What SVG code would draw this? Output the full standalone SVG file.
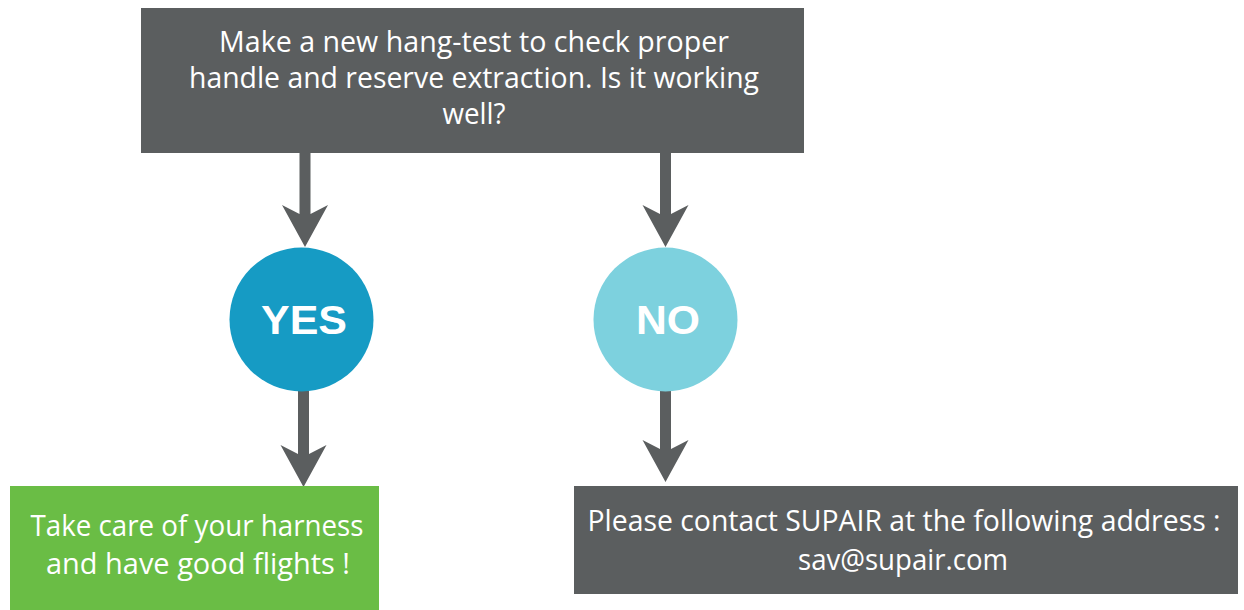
<svg xmlns="http://www.w3.org/2000/svg" width="1244" height="610" viewBox="0 0 1244 610">
<style>
.box{fill:#5b5e5f}
.t{font-family:"Open Sans","Liberation Sans",sans-serif;font-size:29px;fill:#ffffff;text-anchor:middle}
.c{font-family:"Liberation Sans",Arial,sans-serif;font-weight:bold;font-size:41px;fill:#ffffff;text-anchor:middle}
.arr{fill:#5b5e5f}
</style>
<rect width="1244" height="610" fill="#ffffff"/>
<g id="connectors">
  <path class="arr" d="M299.5,152 h11 v62 l17.5,-9 l-23,42 l-23,-42 l17.5,9 z"/>
  <path class="arr" d="M298,391 h11 v63 l17.5,-9 l-23,42 l-23,-42 l17.5,9 z"/>
  <path class="arr" d="M660,152 h11 v62 l17.5,-9 l-23,42 l-23,-42 l17.5,9 z"/>
  <path class="arr" d="M660,391 h11 v58 l17.5,-9 l-23,42 l-23,-42 l17.5,9 z"/>
</g>
<g id="question">
  <rect class="box" x="141" y="8" width="663" height="145"/>
  <text class="t" x="474" y="52" textLength="510" lengthAdjust="spacingAndGlyphs">Make a new hang-test to check proper</text>
  <text class="t" x="474" y="88" textLength="570" lengthAdjust="spacingAndGlyphs">handle and reserve extraction. Is it working</text>
  <text class="t" x="474" y="124" textLength="63" lengthAdjust="spacingAndGlyphs">well?</text>
</g>
<g id="yes">
  <circle cx="301.5" cy="319.5" r="72" fill="#169bc4"/>
  <text class="c" x="304" y="334" textLength="86" lengthAdjust="spacingAndGlyphs">YES</text>
</g>
<g id="no">
  <circle cx="665.5" cy="319.5" r="72" fill="#7dd1de"/>
  <text class="c" x="668" y="334" textLength="64" lengthAdjust="spacingAndGlyphs">NO</text>
</g>
<g id="yes-result">
  <rect x="10" y="486" width="369" height="124" fill="#6abd45"/>
  <text class="t" x="197" y="536" textLength="333" lengthAdjust="spacingAndGlyphs">Take care of your harness</text>
  <text class="t" x="198" y="574" textLength="304" lengthAdjust="spacingAndGlyphs">and have good flights !</text>
</g>
<g id="no-result">
  <rect class="box" x="574" y="486" width="664" height="108"/>
  <text class="t" x="904" y="531" textLength="633" lengthAdjust="spacingAndGlyphs">Please contact SUPAIR at the following address :</text>
  <text class="t" x="903" y="570" textLength="210" lengthAdjust="spacingAndGlyphs">sav@supair.com</text>
</g>
</svg>
